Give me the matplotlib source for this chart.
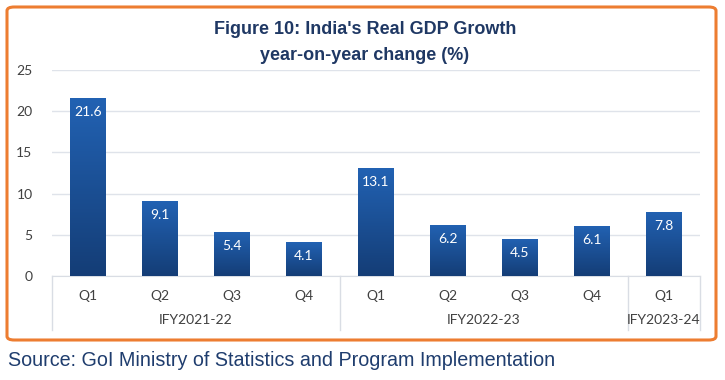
import numpy as np
import matplotlib.pyplot as plt
from matplotlib.patches import FancyBboxPatch
from matplotlib.colors import LinearSegmentedColormap

# data
quarters = ['Q1', 'Q2', 'Q3', 'Q4', 'Q1', 'Q2', 'Q3', 'Q4', 'Q1']
years = ['IFY2021-22', 'IFY2022-23', 'IFY2023-24']
year_sizes = [4, 4, 1]
growth = [21.6, 9.1, 5.4, 4.1, 13.1, 6.2, 4.5, 6.1, 7.8]

W, H = 725, 380
fig = plt.figure(figsize=(W / 100, H / 100), dpi=100)
ax = fig.add_axes([52 / W, 1 - 276 / H, 648 / W, 206 / H])

x = np.arange(len(growth))
bars = ax.bar(x, growth, width=0.5, color='#1a4c91', zorder=2)

# vertical gradient in each bar
cmap = LinearSegmentedColormap.from_list('grad', ['#143d76', '#2262b3'])
grad = np.linspace(0, 1, 256).reshape(-1, 1)
for b in bars:
    x0, w, h = b.get_x(), b.get_width(), b.get_height()
    im = ax.imshow(grad, cmap=cmap, aspect='auto', origin='lower',
                   extent=(x0, x0 + w, 0, h), zorder=3)
    im.set_clip_path(b)
    ax.text(x0 + w / 2, h - 1.0, f'{h:.1f}', ha='center', va='top',
            color='white', fontsize=10, family='Lato', zorder=4)

ax.set_xlim(-0.5, len(growth) - 0.5)
ax.set_ylim(0, 25)
ax.set_yticks(range(0, 26, 5))
ax.yaxis.grid(True, color='#dfe3ea', linewidth=1)
ax.set_axisbelow(True)
for s in ['top', 'right', 'left']:
    ax.spines[s].set_visible(False)
ax.spines['bottom'].set_color('#d9dde4')
ax.tick_params(axis='y', length=0, pad=14, labelsize=10, labelcolor='#404040')
ax.tick_params(axis='x', length=0, pad=10, labelsize=10, labelcolor='#404040')
for lab in ax.get_yticklabels():
    lab.set_family('Lato')
ax.set_xticks(x)
ax.set_xticklabels(quarters, family='Lato')

# group labels and separators
tr = ax.get_xaxis_transform()
edges = [-0.5]
for n in year_sizes:
    edges.append(edges[-1] + n)
for e in edges:
    ax.plot([e, e], [0, -0.262], transform=tr, color='#d9dde4', lw=1, clip_on=False)
for i, name in enumerate(years):
    ax.text((edges[i] + edges[i + 1]) / 2, -0.215, name, transform=tr,
            ha='center', va='center', fontsize=10, color='#404040', family='Lato')

# title
fig.text(365 / W, 1 - 30 / H, "Figure 10: India's Real GDP Growth", ha='center', va='center',
         fontsize=13, fontweight='bold', color='#1f3864', family='Liberation Sans')
fig.text(365 / W, 1 - 55 / H, "year-on-year change (%)", ha='center', va='center',
         fontsize=13, fontweight='bold', color='#1f3864', family='Liberation Sans')

# orange frame
frame = FancyBboxPatch((7 / W, 1 - 340 / H), 709 / W, 333 / H,
                       boxstyle='round,pad=0,rounding_size=0.01',
                       transform=fig.transFigure, fill=False,
                       edgecolor='#ed7d31', linewidth=2.2)
fig.add_artist(frame)

fig.text(8 / W, 1 - 361 / H, 'Source: GoI Ministry of Statistics and Program Implementation',
         ha='left', va='center', fontsize=14.2, color='#1f3d6e', family='Liberation Sans')

fig.savefig('out.png', dpi=100)
